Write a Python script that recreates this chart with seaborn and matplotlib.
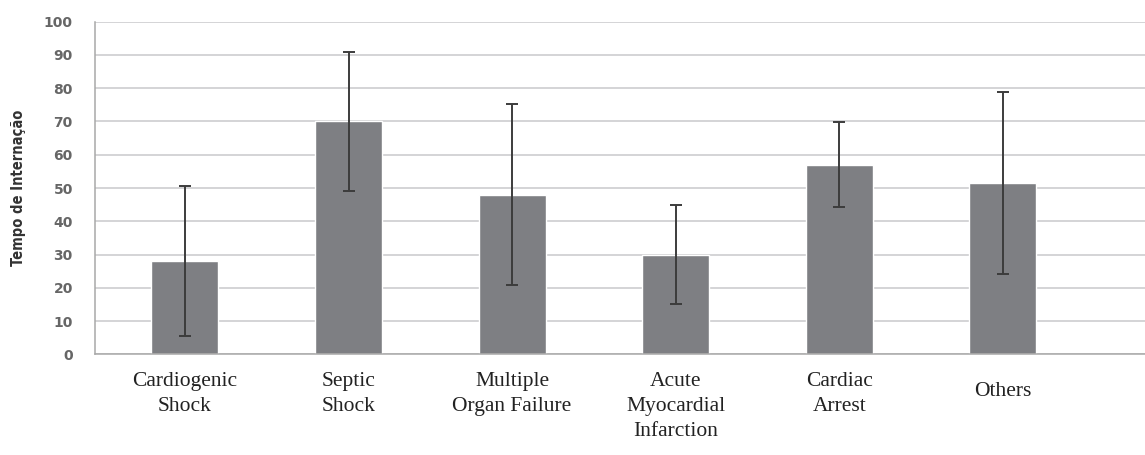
import numpy as np
import pandas as pd
import seaborn as sns
import matplotlib.pyplot as plt
from matplotlib.ticker import FixedLocator
from matplotlib.transforms import ScaledTranslation

categories = ["Cardiogenic\nShock", "Septic\nShock", "Multiple\nOrgan Failure",
              "Acute\nMyocardial\nInfarction", "Cardiac\nArrest", "Others"]
means = [28, 70, 48, 30, 57, 51.5]
sds = [22.5, 21, 27.3, 15, 12.8, 27.5]
y_ticks = list(range(0, 101, 10))

df = pd.DataFrame({"cat": categories, "mean": means, "sd": sds})

sns.set_style("white")
plt.rcParams['font.family'] = ['DejaVu Sans']

fig = plt.figure(figsize=(11.45, 4.55), dpi=100)
ax = fig.add_axes([95 / 1145, 1 - 354.3 / 455, 1 - 95 / 1145, 332.6 / 455])

sns.barplot(data=df, x="cat", y="mean", color="#7e7f83", saturation=1,
            width=0.41, errorbar=None, ax=ax, zorder=2)

# error bars on the bar centres
xs = [p.get_x() + p.get_width() / 2 for p in ax.patches]
ax.errorbar(xs, df["mean"], yerr=df["sd"], fmt="none", ecolor="#3c3c3c",
            elinewidth=1.4, capsize=4, capthick=1.4, zorder=3)

ax.set_ylim(0, 100)
ax.set_xlim(-0.55, 5.87)
ax.set_yticks(y_ticks)
ax.yaxis.grid(True, color="#c9c9cc", linewidth=1.1, zorder=0)
ax.set_axisbelow(True)

for s in ["top", "right"]:
    ax.spines[s].set_visible(False)
ax.spines["left"].set_color("#a8a8a8")
ax.spines["bottom"].set_color("#a8a8a8")
ax.spines["left"].set_linewidth(1.1)
ax.spines["bottom"].set_linewidth(1.1)

ax.tick_params(axis="y", which="major", length=5, color="#a8a8a8", pad=11,
               labelsize=10, labelcolor="#666666")
for lab in ax.get_yticklabels():
    lab.set_fontweight("bold")

ax.xaxis.set_minor_locator(FixedLocator(np.arange(-0.5, 6.0, 1.0)))
ax.tick_params(axis="x", which="major", length=0, pad=13)
ax.tick_params(axis="x", which="minor", length=3, color="#a8a8a8")
ax.set_xticklabels(categories, family=["Liberation Serif", "DejaVu Serif"],
                   fontsize=15.5, color="#222222", linespacing=1.42)
others = ax.get_xticklabels()[-1]
others.set_transform(others.get_transform() + ScaledTranslation(0, -7 / 72, fig.dpi_scale_trans))

ax.set_xlabel("")
ax.set_ylabel("Tempo de Internação", family=["DejaVu Sans"], fontstretch="condensed",
              fontsize=10.5, fontweight="bold", color="#333333", labelpad=13)

fig.savefig("out.png", dpi=100)
